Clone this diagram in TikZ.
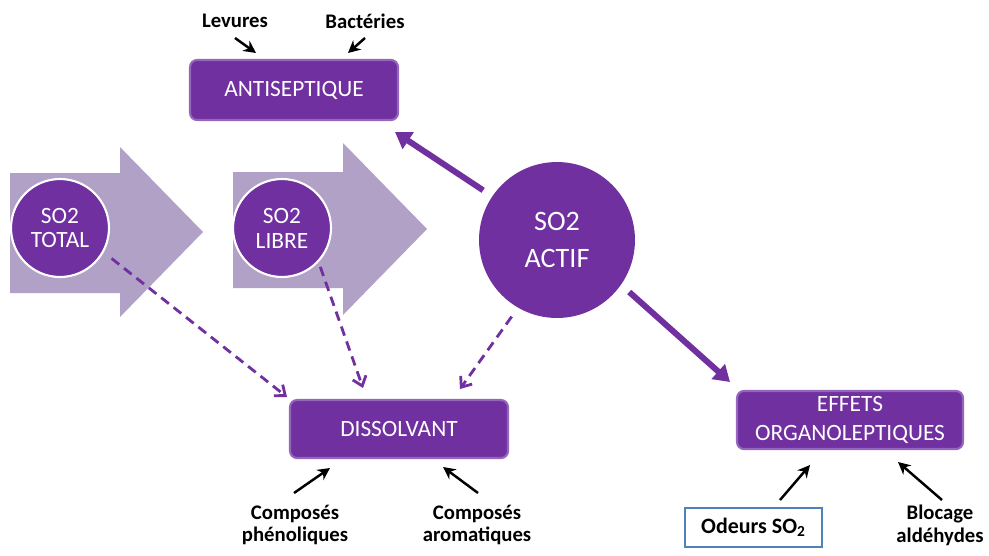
\documentclass[tikz,border=0pt]{standalone}
\usepackage{fontspec}
\setmainfont{Carlito}
\usetikzlibrary{calc, positioning, arrows.meta}
\definecolor{violet}{HTML}{7030A0}
\definecolor{violetclair}{HTML}{B2A1C7}
\definecolor{violetbord}{HTML}{9466BC}
\definecolor{bleubord}{HTML}{4F81BD}

\begin{document}
\begin{tikzpicture}[x=0.02cm, y=-0.02cm,
    boite/.style={draw=violetbord, line width=1.2pt, fill=violet, rounded corners=4pt,
      text=white, font=\fontsize{13.3}{16}\selectfont, align=center},
    rond/.style={circle, fill=violet, draw=white, line width=1.2pt, text=white,
      align=center, inner sep=0pt},
    etiq/.style={font=\fontsize{11.8}{13}\selectfont\bfseries, align=center},
    fleche/.style={-{Stealth[length=7pt, width=7pt]}, line width=1.4pt},
    grosse/.style={-{Triangle[length=9pt, width=11pt]}, violet, line width=3.4pt},
    tirets/.style={-{Straight Barb[length=5pt, width=8pt]}, violet, line width=1.6pt,
      dash pattern=on 5.5pt off 3.5pt}]
  \useasboundingbox (0,0) rectangle (989,555);

  % grandes fleches de fond
  \fill[violetclair] (10,173) -- (120,173) -- (120,147) -- (203,232) -- (120,317)
    -- (120,293) -- (10,293) -- cycle;
  \fill[violetclair] (233,172) -- (343,172) -- (343,143) -- (427,229) -- (343,315)
    -- (343,288) -- (233,288) -- cycle;

  % les trois formes de SO2
  \node[rond, minimum size=1.96cm, font=\fontsize{13.3}{14.2}\selectfont] (total) at (60,228) {SO2\\TOTAL};
  \node[rond, minimum size=1.96cm, font=\fontsize{13.3}{14.2}\selectfont] (libre) at (282,228) {SO2\\LIBRE};
  \node[rond, minimum size=3.12cm, draw=none, font=\fontsize{16}{21}\selectfont] (actif) at (557,240) {SO2\\ACTIF};

  % les roles
  \node[boite, minimum width=4.16cm, minimum height=1.2cm] (antiseptique) at (294,90) {ANTISEPTIQUE};
  \node[boite, minimum width=4.36cm, minimum height=1.16cm] (dissolvant) at (399,429) {DISSOLVANT};
  \node[boite, minimum width=4.52cm, minimum height=1.12cm] (effets) at (850,420) {EFFETS\\ORGANOLEPTIQUES};

  % liens depuis le SO2 actif
  \coordinate (versanti) at (395,132);
  \coordinate (verseffets) at (730,382);
  \draw[grosse, shorten <=0.2cm] (actif.146) -- (versanti);
  \draw[grosse, shorten <=0.2cm] (actif.-35) -- (verseffets);

  % liens en tirets vers le dissolvant
  \coordinate (dtotal) at (287,397);
  \coordinate (dlibre) at (363,388);
  \coordinate (dactif) at (460,389);
  \draw[tirets, shorten <=0.2cm] (total.-29) -- (dtotal);
  \draw[tirets, shorten <=0.1cm] (libre.-43) -- (dlibre);
  \draw[tirets, shorten <=0.2cm] (actif.-120) -- (dactif);

  % antiseptique
  \node[etiq] (levures) at (235,21) {Levures};
  \node[etiq] (bacteries) at (365,21) {Bactéries};
  \coordinate (lev1) at (235,38);  \coordinate (lev2) at (256,53);
  \coordinate (bac1) at (365,38);  \coordinate (bac2) at (348,53);
  \draw[fleche] (lev1) -- (lev2);
  \draw[fleche] (bac1) -- (bac2);

  % dissolvant
  \node[etiq] (phenoliques) at (295,525) {Composés\\phénoliques};
  \node[etiq] (aromatiques) at (477,525) {Composés\\aromatiques};
  \coordinate (phe1) at (294,493);  \coordinate (phe2) at (330,468);
  \coordinate (aro1) at (478,493);  \coordinate (aro2) at (443,467);
  \draw[fleche] (phe1) -- (phe2);
  \draw[fleche] (aro1) -- (aro2);

  % effets organoleptiques
  \node[draw=bleubord, line width=0.8pt, minimum width=2.74cm, minimum height=0.78cm,
    font=\fontsize{12.5}{13}\selectfont\bfseries] (odeurs) at (753.5,527.5) {Odeurs SO\textsubscript{2}};
  \node[etiq] (blocage) at (940,525) {Blocage\\aldéhydes};
  \coordinate (ode1) at (780,500);  \coordinate (ode2) at (810,465);
  \coordinate (blo1) at (942,500);  \coordinate (blo2) at (898,462);
  \draw[fleche] (ode1) -- (ode2);
  \draw[fleche] (blo1) -- (blo2);
\end{tikzpicture}
\end{document}
